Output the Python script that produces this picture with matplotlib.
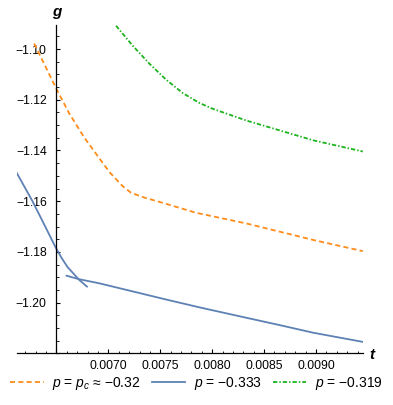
import matplotlib
matplotlib.use("Agg")
import matplotlib.pyplot as plt
from matplotlib.lines import Line2D
from matplotlib.ticker import MultipleLocator, FixedLocator

plt.rcParams['font.family'] = ['Liberation Sans', 'DejaVu Sans']
plt.rcParams['mathtext.fontset'] = 'custom'
plt.rcParams['mathtext.it'] = 'Liberation Sans:italic'
plt.rcParams['mathtext.rm'] = 'Liberation Sans'

# p = p_c ~ -0.32 (orange dashed)
t_pc = [0.006285, 0.006391, 0.006498, 0.006623, 0.006768, 0.006913, 0.00701,
        0.007138, 0.007219, 0.007348, 0.007493, 0.007847, 0.00833, 0.008974, 0.009451]
g_pc = [-1.0978, -1.1066, -1.1156, -1.1254, -1.1349, -1.1431, -1.1485,
        -1.1541, -1.1567, -1.1586, -1.1603, -1.1646, -1.1688, -1.1753, -1.1797]

# p = -0.333 (blue), two branches crossing
t_b1 = [0.006103, 0.006269, 0.006382, 0.006495, 0.006551, 0.006607, 0.00672, 0.006794]
g_b1 = [-1.1478, -1.1600, -1.1692, -1.1785, -1.1825, -1.1860, -1.1911, -1.1937]
t_b2 = [0.006597, 0.00672, 0.006913, 0.007235, 0.007557, 0.007879, 0.00833,
        0.008652, 0.008974, 0.009451]
g_b2 = [-1.1894, -1.1908, -1.1924, -1.1956, -1.1988, -1.2019, -1.2060,
        -1.2089, -1.2119, -1.2155]

# p = -0.319 (green dash-dot)
t_g = [0.007074, 0.007235, 0.007396, 0.007557, 0.007718, 0.007879, 0.008008,
       0.00833, 0.008652, 0.008974, 0.009451]
g_g = [-1.0908, -1.0987, -1.1058, -1.1121, -1.1174, -1.1213, -1.1236,
       -1.1282, -1.1321, -1.1360, -1.1404]

xticks = [0.0070, 0.0075, 0.0080, 0.0085, 0.0090]
xticklabels = ["0.0070", "0.0075", "0.0080", "0.0085", "0.0090"]
yticks = [-1.20, -1.18, -1.16, -1.14, -1.12, -1.10]
yticklabels = ["\u22121.20", "\u22121.18", "\u22121.16", "\u22121.14", "\u22121.12", "\u22121.10"]
labels = ["$p$ = $p_c$ \u2248 \u22120.32", "$p$ = \u22120.333", "$p$ = \u22120.319"]

c_orange = "#FF8C1A"
c_blue = "#5E81B5"
c_green = "#1DB31D"
dash_o = (2.8, 1.8)
dash_g = (2.4, 1.1, 0.8, 1.1)

fig = plt.figure(figsize=(3.93, 4.05), dpi=100)
ax = fig.add_axes([0.0433, 0.1277, 0.8796, 0.8106])

ax.plot(t_pc, g_pc, color=c_orange, lw=1.3, dashes=dash_o)
ax.plot(t_b1, g_b1, color=c_blue, lw=1.3)
ax.plot(t_b2, g_b2, color=c_blue, lw=1.3)
ax.plot(t_g, g_g, color=c_green, lw=1.3, dashes=dash_g)

ax.set_xlim(0.00612, 0.00945)
ax.set_ylim(-1.22, -1.0905)

ax.spines['top'].set_visible(False)
ax.spines['right'].set_visible(False)
ax.spines['left'].set_position(('data', 0.0065))
ax.spines['bottom'].set_position(('data', -1.22))
for s in ['left', 'bottom']:
    ax.spines[s].set_linewidth(0.9)

ax.xaxis.set_major_locator(FixedLocator([0.0065] + xticks))
ax.set_xticklabels([""] + xticklabels)
ax.xaxis.set_minor_locator(MultipleLocator(0.0001))
ax.yaxis.set_major_locator(FixedLocator([-1.22] + yticks))
ax.set_yticklabels([""] + yticklabels)
ax.yaxis.set_minor_locator(MultipleLocator(0.005))

ax.tick_params(which='major', direction='in', length=3.0, width=0.8, labelsize=8.8)
ax.tick_params(which='minor', direction='in', length=1.8, width=0.6)
ax.tick_params(axis='y', pad=7)
ax.tick_params(axis='x', pad=5)

fig.text(57 / 393, 1 - 12 / 405, "g", fontsize=11, fontweight='bold',
         style='italic', ha='center', va='center')
fig.text(372 / 393, 1 - 355 / 405, "t", fontsize=11, fontweight='bold',
         style='italic', ha='center', va='center')

handles = [
    Line2D([], [], color=c_orange, lw=1.3, dashes=dash_o),
    Line2D([], [], color=c_blue, lw=1.3),
    Line2D([], [], color=c_green, lw=1.3, dashes=dash_g),
]
fig.legend(handles, labels, loc='center', bbox_to_anchor=(0.5, 0.054), ncol=3,
           frameon=False, fontsize=10, handlelength=2.4, handletextpad=0.6,
           columnspacing=0.8, borderpad=0)

fig.savefig("out.png", dpi=100)
